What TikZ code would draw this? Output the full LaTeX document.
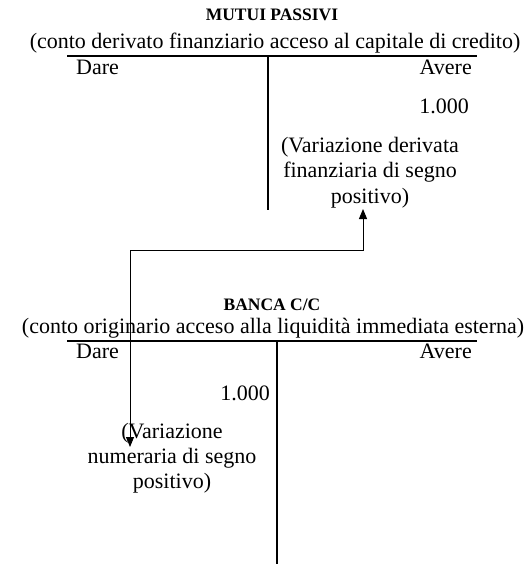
\documentclass[tikz,border=0pt]{standalone}
\usepackage{fontspec}
\setmainfont{Liberation Serif}
\usetikzlibrary{arrows.meta}
\tikzset{
  body/.style={inner sep=0pt, font=\fontsize{22}{25}\selectfont},
  ttl/.style={inner sep=0pt, font=\fontsize{17.5}{20}\selectfont\bfseries},
  tline/.style={line width=1.3pt},
  conn/.style={line width=1pt, {Triangle[length=10pt,width=8pt]}-{Triangle[length=10pt,width=8pt]}},
}
\begin{document}
\begin{tikzpicture}[x=1pt,y=-1pt]
\path[use as bounding box, fill=white] (0,0) rectangle (528,564);
% top account
\node[ttl, anchor=base] (t1) at (272,21) {MUTUI PASSIVI};
\node[body, anchor=base] (s1) at (275,49) {(conto derivato finanziario acceso al capitale di credito)};
\coordinate (h1l) at (67,56);
\coordinate (h1r) at (477,56);
\coordinate (v1t) at (268,56);
\coordinate (v1b) at (268,210);
\draw[tline] (h1l) -- (h1r);
\draw[tline] (v1t) -- (v1b);
\node[body, anchor=base west] (d1) at (76,75) {Dare};
\node[body, anchor=base east] (a1) at (472,75) {Avere};
\node[body, anchor=base east] (n1) at (469,114) {1.000};
\node[body, anchor=base] (vt1) at (370,153) {(Variazione derivata};
\node[body, anchor=base] (vt2) at (370,178) {finanziaria di segno};
\node[body, anchor=base] (vt3) at (370,203) {positivo)};
% bottom account
\node[ttl, anchor=base] (t2) at (272,310) {BANCA C/C};
\node[body, anchor=base] (s2) at (273,333) {(conto originario acceso alla liquidità immediata esterna)};
\coordinate (h2l) at (67,341);
\coordinate (h2r) at (477,341);
\coordinate (v2t) at (277,341);
\coordinate (v2b) at (277,564);
\draw[tline] (h2l) -- (h2r);
\draw[tline] (v2t) -- (v2b);
\node[body, anchor=base west] (d2) at (76,358) {Dare};
\node[body, anchor=base east] (a2) at (472,358) {Avere};
\node[body, anchor=base east] (n2) at (270,400) {1.000};
\node[body, anchor=base] (vb1) at (172,438) {(Variazione};
\node[body, anchor=base] (vb2) at (172,463) {numeraria di segno};
\node[body, anchor=base] (vb3) at (172,488) {positivo)};
% connector
\coordinate (ca) at (363,209);
\coordinate (cm) at (363,250);
\coordinate (cb) at (130,447);
\draw[conn] (ca) -- (cm) -| (cb);
\end{tikzpicture}
\end{document}
